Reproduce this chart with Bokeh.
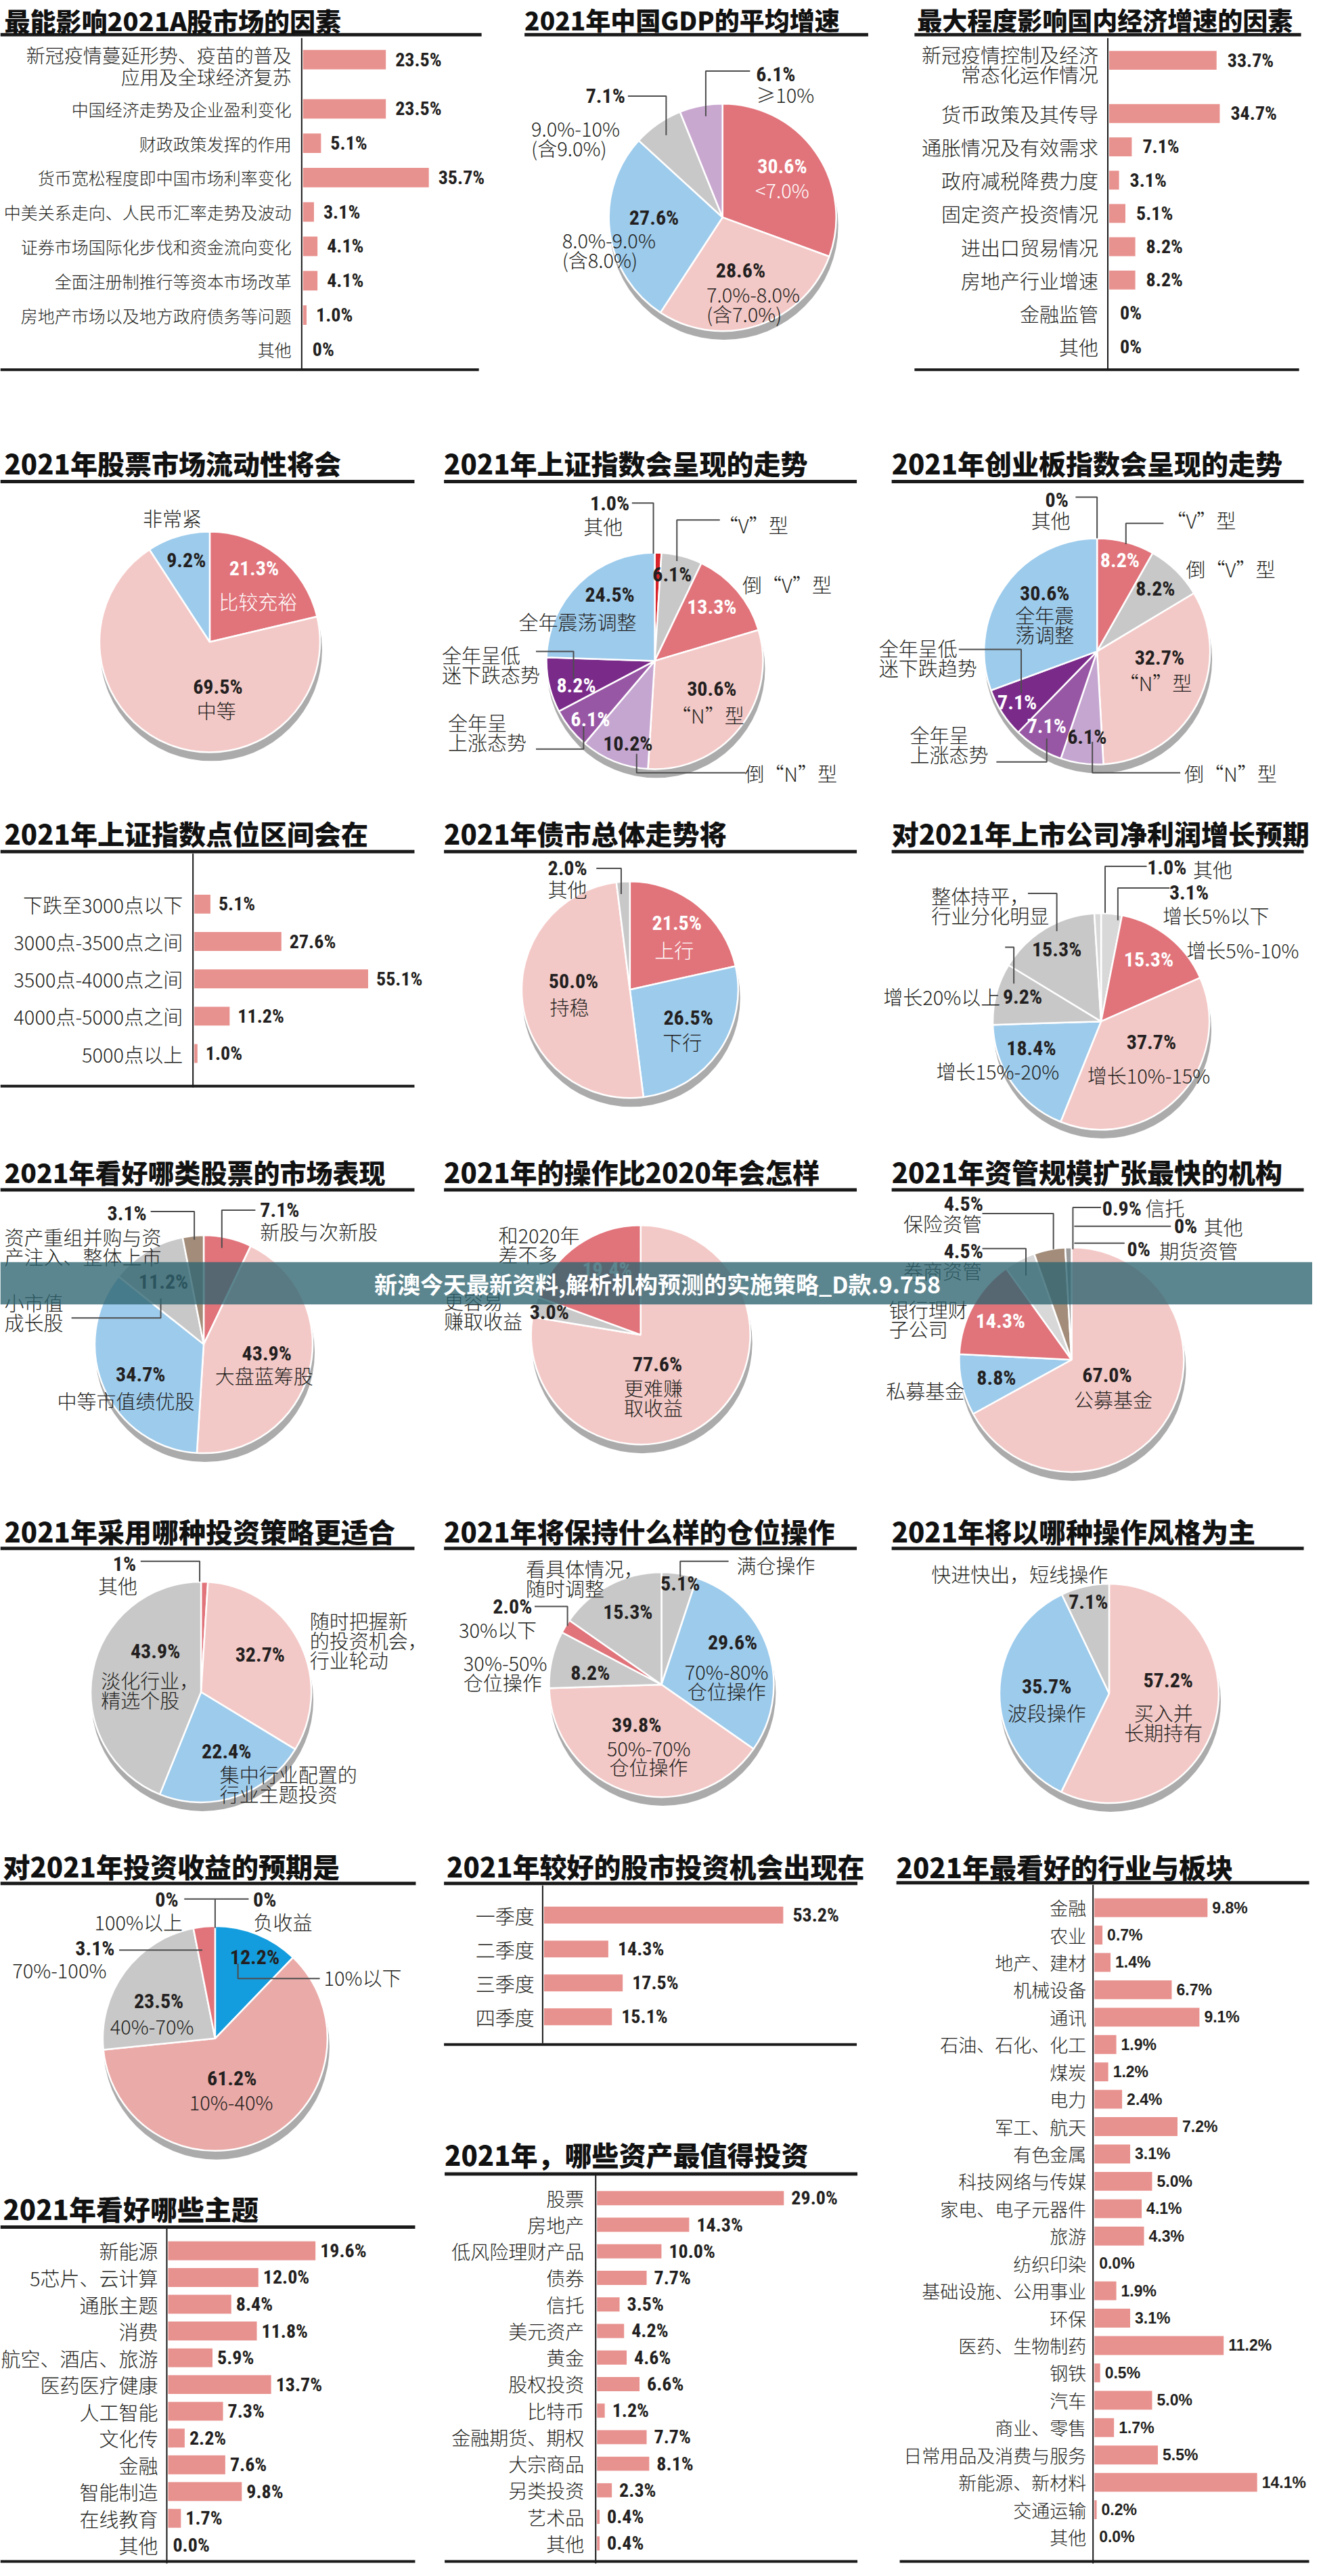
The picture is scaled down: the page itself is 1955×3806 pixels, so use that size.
import numpy as np
from collections import defaultdict
from bokeh.plotting import figure
from bokeh.models import Range1d, ColumnDataSource
from bokeh.core.properties import value
from bokeh.embed import file_html
from bokeh.resources import INLINE

# ======================= DATA =======================
FACTORS_CATS = ["新冠疫情蔓延形势、疫苗的普及\n应用及全球经济复苏", "中国经济走势及企业盈利变化", "财政政策发挥的作用",
                "货币宽松程度即中国市场利率变化", "中美关系走向、人民币汇率走势及波动", "证券市场国际化步伐和资金流向变化",
                "全面注册制推行等资本市场改革", "房地产市场以及地方政府债务等问题", "其他"]
FACTORS_VALS = [23.5, 23.5, 5.1, 35.7, 3.1, 4.1, 4.1, 1.0, 0]

GDP_CATS = ["<7.0%", "7.0%-8.0%\n(含7.0%)", "8.0%-9.0%\n(含8.0%)", "9.0%-10%\n(含9.0%)", "≥10%"]
GDP_VALS = [30.6, 28.6, 27.6, 7.1, 6.1]

ECON_CATS = ["新冠疫情控制及经济\n常态化运作情况", "货币政策及其传导", "通胀情况及有效需求", "政府减税降费力度",
             "固定资产投资情况", "进出口贸易情况", "房地产行业增速", "金融监管", "其他"]
ECON_VALS = [33.7, 34.7, 7.1, 3.1, 5.1, 8.2, 8.2, 0, 0]

LIQ_CATS = ["比较充裕", "中等", "非常紧"]
LIQ_VALS = [21.3, 69.5, 9.2]

SH_CATS = ["其他", "“V”型", "倒“V”型", "“N”型", "倒“N”型", "全年呈\n上涨态势", "全年呈低\n迷下跌态势", "全年震荡调整"]
SH_VALS = [1.0, 6.1, 13.3, 30.6, 10.2, 6.1, 8.2, 24.5]

CY_CATS = ["其他", "“V”型", "倒“V”型", "“N”型", "倒“N”型", "全年呈\n上涨态势", "全年呈低\n迷下跌趋势", "全年震\n荡调整"]
CY_VALS = [0, 8.2, 8.2, 32.7, 6.1, 7.1, 7.1, 30.6]

POINT_CATS = ["下跌至3000点以下", "3000点-3500点之间", "3500点-4000点之间", "4000点-5000点之间", "5000点以上"]
POINT_VALS = [5.1, 27.6, 55.1, 11.2, 1.0]

BOND_CATS = ["上行", "下行", "持稳", "其他"]
BOND_VALS = [21.5, 26.5, 50.0, 2.0]

PROFIT_CATS = ["增长5%以下", "增长5%-10%", "增长10%-15%", "增长15%-20%", "增长20%以上", "整体持平，\n行业分化明显", "其他"]
PROFIT_VALS = [3.1, 15.3, 37.7, 18.4, 9.2, 15.3, 1.0]

STOCK_CATS = ["新股与次新股", "大盘蓝筹股", "中等市值绩优股", "小市值\n成长股", "资产重组并购与资\n产注入、整体上市"]
STOCK_VALS = [7.1, 43.9, 34.7, 11.2, 3.1]

OPER_CATS = ["更难赚\n取收益", "更容易\n赚取收益", "和2020年\n差不多"]
OPER_VALS = [77.6, 3.0, 19.4]

AM_CATS = ["公募基金", "私募基金", "银行理财\n子公司", "券商资管", "保险资管", "信托", "其他", "期货资管"]
AM_VALS = [67.0, 8.8, 14.3, 4.5, 4.5, 0.9, 0, 0]

STRAT_CATS = ["其他", "随时把握新\n的投资机会，\n行业轮动", "集中行业配置的\n行业主题投资", "淡化行业，\n精选个股"]
STRAT_VALS = [1, 32.7, 22.4, 43.9]

POS_CATS = ["满仓操作", "70%-80%\n仓位操作", "50%-70%\n仓位操作", "30%-50%\n仓位操作", "30%以下", "看具体情况，\n随时调整"]
POS_VALS = [5.1, 29.6, 39.8, 8.2, 2.0, 15.3]

STYLE_CATS = ["买入并\n长期持有", "波段操作", "快进快出，短线操作"]
STYLE_VALS = [57.2, 35.7, 7.1]

RET_CATS = ["负收益", "10%以下", "10%-40%", "40%-70%", "70%-100%", "100%以上"]
RET_VALS = [0, 12.2, 61.2, 23.5, 3.1, 0]

QTR_CATS = ["一季度", "二季度", "三季度", "四季度"]
QTR_VALS = [53.2, 14.3, 17.5, 15.1]

IND_CATS = ["金融", "农业", "地产、建材", "机械设备", "通讯", "石油、石化、化工", "煤炭", "电力", "军工、航天",
            "有色金属", "科技网络与传媒", "家电、电子元器件", "旅游", "纺织印染", "基础设施、公用事业", "环保",
            "医药、生物制药", "钢铁", "汽车", "商业、零售", "日常用品及消费与服务", "新能源、新材料", "交通运输", "其他"]
IND_VALS = [9.8, 0.7, 1.4, 6.7, 9.1, 1.9, 1.2, 2.4, 7.2, 3.1, 5.0, 4.1, 4.3, 0.0, 1.9, 3.1, 11.2, 0.5, 5.0,
            1.7, 5.5, 14.1, 0.2, 0.0]

THEME_CATS = ["新能源", "5芯片、云计算", "通胀主题", "消费", "航空、酒店、旅游", "医药医疗健康", "人工智能",
              "文化传", "金融", "智能制造", "在线教育", "其他"]
THEME_VALS = [19.6, 12.0, 8.4, 11.8, 5.9, 13.7, 7.3, 2.2, 7.6, 9.8, 1.7, 0.0]

ASSET_CATS = ["股票", "房地产", "低风险理财产品", "债券", "信托", "美元资产", "黄金", "股权投资", "比特币",
              "金融期货、期权", "大宗商品", "另类投资", "艺术品", "其他"]
ASSET_VALS = [29.0, 14.3, 10.0, 7.7, 3.5, 4.2, 4.6, 6.6, 1.2, 7.7, 8.1, 2.3, 0.4, 0.4]

TITLES = ["最能影响2021A股市场的因素", "2021年中国GDP的平均增速", "最大程度影响国内经济增速的因素",
          "2021年股票市场流动性将会", "2021年上证指数会呈现的走势", "2021年创业板指数会呈现的走势",
          "2021年上证指数点位区间会在", "2021年债市总体走势将", "对2021年上市公司净利润增长预期",
          "2021年看好哪类股票的市场表现", "2021年的操作比2020年会怎样", "2021年资管规模扩张最快的机构",
          "2021年采用哪种投资策略更适合", "2021年将保持什么样的仓位操作", "2021年将以哪种操作风格为主",
          "对2021年投资收益的预期是", "2021年较好的股市投资机会出现在", "2021年最看好的行业与板块",
          "2021年看好哪些主题", "2021年，哪些资产最值得投资"]
BANNER = "新澳今天最新资料,解析机构预测的实施策略_D款.9.758"

# ======================= STYLE =======================
CJK = "Noto Sans CJK SC"
CJK_LIGHT = "Noto Sans CJK SC Light, Noto Sans CJK SC DemiLight, Noto Sans CJK SC"
CJK_HEAVY = "Noto Sans CJK SC Black, Noto Sans CJK SC Heavy, Noto Sans CJK SC"
NUM = "Liberation Sans Narrow, Roboto Condensed, Noto Sans Condensed, DejaVu Sans Condensed, Liberation Sans"
WIDE = "Liberation Sans, Arial"
DARK = "#231f20"
BAR = "#e8928f"
RED, PINK, BLUE, GRAY = "#e1737a", "#f3c9c7", "#9dcbec", "#c8c8c8"
LGRAY, DGRAY, LAV = "#d8d8d8", "#9c9c9c", "#c9a8d0"
DPUR, MPUR, LPUR, BROWN = "#7a2a89", "#9857a5", "#c5a6d0", "#a38d7a"
BBLUE, DPINK, BRED, SHADOW = "#149dde", "#eaaaa8", "#d8232a", "#ababab"

# page coordinates of the reference (0..1955 x 0..3806) mapped onto the 1939x3790 canvas
X0, X1, Y0, Y1 = 0, 1955, 0, 3806

p = figure(width=1939, height=3790, x_range=Range1d(X0, X1), y_range=Range1d(Y1, Y0),
           output_backend="svg", toolbar_location=None, x_axis_location=None, y_axis_location=None,
           min_border=0)
p.grid.visible = False
p.outline_line_color = None
p.background_fill_color = "white"
p.border_fill_color = "white"

texts = []
def T(x, y, s, font=CJK_LIGHT, size=29, style="normal", color=DARK, align="center", lh=29):
    for k, part in enumerate(s.split("\n")):
        texts.append((x, y + k * lh, part, font, size, style, color, align))

seg = dict(x0=[], y0=[], x1=[], y1=[], w=[])
def S(x0, y0, x1, y1, w):
    for k, v in zip(("x0", "y0", "x1", "y1", "w"), (x0, y0, x1, y1, w)):
        seg[k].append(v)

leader_xs, leader_ys = [], []

# ---------------- titles & rules ----------------
TITLE_POS = [(6, 29, 38), (781, 29, 37), (1366, 29, 37),
             (6, 686, 40), (661, 686, 40), (1328, 686, 40),
             (6, 1236, 40), (661, 1236, 40), (1328, 1236, 40),
             (6, 1738, 39), (661, 1738, 40), (1328, 1738, 40),
             (6, 2271, 40), (661, 2271, 40), (1328, 2271, 40),
             (4, 2768, 40), (665, 2768, 40), (1335, 2769, 40),
             (4, 3276, 40), (662, 3196, 40)]
for t, (x, y, s) in zip(TITLES, TITLE_POS):
    T(x, y, t, font=CJK_HEAVY, size=s, style="bold", align="left", color="#111111")

UNDERLINES = [(0, 717, 51), (781, 1293, 51), (1362, 1938, 51)]
for yy in (714, 1263, 1765, 2297):
    UNDERLINES += [(0, 617, yy), (661, 1276, yy), (1328, 1942, yy)]
UNDERLINES += [(0, 619, 2794), (661, 1277, 2794), (1335, 1950, 2793), (0, 618, 3304), (662, 1277, 3225)]
for a, b, yy in UNDERLINES:
    S(a, yy, b, yy, 5)

# ---------------- bar charts ----------------
BAR_LAYOUT = {
    "factors": dict(axis=451, ax_y=(56, 549), bottom=(0, 713, 548), y0=88, dy=51, extra=22, bar_h=29,
                    scale=5.25, lgap=17, lsize=25, first_size=28, lh=32, shift=9, vgap=14),
    "econ": dict(axis=1652, ax_y=(56, 548), bottom=(1362, 1935, 548), y0=89, dy=49.4, extra=29.6, bar_h=28,
                 scale=4.75, lgap=16, lsize=29, lh=29, shift=5, vgap=16),
    "points": dict(axis=289, ax_y=(1266, 1613), bottom=(0, 617, 1611), y0=1341, dy=55.4, bar_h=28,
                   scale=4.7, lgap=17, lsize=29, vgap=12),
    "quarters": dict(axis=810, ax_y=(2797, 3031), bottom=(661, 1276, 3033), y0=2841, dy=50.3, bar_h=25,
                     scale=6.7, lgap=14, lsize=29, vgap=14),
    "themes": dict(axis=250, ax_y=(3306, 3803), bottom=(0, 618, 3800), y0=3339, dy=39.7, bar_h=28,
                   scale=11.2, lgap=15, lsize=29, vgap=7),
    "assets": dict(axis=889, ax_y=(3223, 3803), bottom=(662, 1277, 3800), y0=3261, dy=39.4, bar_h=21,
                   scale=9.6, lgap=19, lsize=28, vgap=11),
    "industries": dict(axis=1630, ax_y=(2796, 3803), bottom=(1340, 1950, 3800), y0=2830, dy=40.6, bar_h=28,
                       scale=17.2, lgap=12, lsize=27, vgap=7, vfont=WIDE, vsize=23),
}

def draw_bars(name, cats, vals, L):
    ax, sc, y0, dy = L["axis"], L["scale"], L["y0"], L["dy"]
    xr, yr = name + "_x", name + "_y"
    p.extra_x_ranges[xr] = Range1d((X0 - ax) / sc, (X1 - ax) / sc)
    p.extra_y_ranges[yr] = Range1d((Y1 - y0) / dy, (Y0 - y0) / dy)
    slots, acc = [], 0.0
    for c in cats:
        slots.append(acc)
        acc += 1 + c.count("\n") * L.get("extra", 0) / dy
    src = ColumnDataSource(dict(slot=slots, val=list(vals), lab=[f"{v}%" for v in vals]))
    p.hbar(y="slot", left=0, right="val", height=L["bar_h"] / dy, source=src, fill_color=BAR,
           line_color=None, x_range_name=xr, y_range_name=yr)
    p.text(x="val", y="slot", text="lab", source=src, x_offset=L["vgap"], text_align="left",
           text_baseline="middle", text_font=value(L.get("vfont", NUM)),
           text_font_size=f'{L.get("vsize", 28)}px', text_font_style="bold", text_color=DARK,
           x_range_name=xr, y_range_name=yr)
    groups = defaultdict(lambda: ([], []))
    for i, c in enumerate(cats):
        parts = c.split("\n")
        n = len(parts)
        size = L.get("first_size", L["lsize"]) if i == 0 else L["lsize"]
        for k, part in enumerate(parts):
            off = ((k - (n - 1) / 2) * L.get("lh", 30) + (L.get("shift", 0) if n > 1 else 0)) / dy
            groups[size][0].append(slots[i] + off)
            groups[size][1].append(part)
    for size, (ys, ts) in groups.items():
        p.text(x=[0] * len(ys), y=ys, text=ts, x_offset=-L["lgap"], text_align="right",
               text_baseline="middle", text_font=value(CJK_LIGHT), text_font_size=f"{size}px",
               text_color=DARK, x_range_name=xr, y_range_name=yr)
    S(ax - 2, L["ax_y"][0], ax - 2, L["ax_y"][1], 2)
    b = L["bottom"]
    S(b[0], b[2], b[1], b[2], 4)

draw_bars("factors", FACTORS_CATS, FACTORS_VALS, BAR_LAYOUT["factors"])
draw_bars("econ", ECON_CATS, ECON_VALS, BAR_LAYOUT["econ"])
draw_bars("points", POINT_CATS, POINT_VALS, BAR_LAYOUT["points"])
draw_bars("quarters", QTR_CATS, QTR_VALS, BAR_LAYOUT["quarters"])
draw_bars("themes", THEME_CATS, THEME_VALS, BAR_LAYOUT["themes"])
draw_bars("assets", ASSET_CATS, ASSET_VALS, BAR_LAYOUT["assets"])
draw_bars("industries", IND_CATS, IND_VALS, BAR_LAYOUT["industries"])

# ---------------- pies ----------------
# val_pos / cat_pos: (x, y, colour 'w'|'d', align)
PIES = [
    dict(cats=GDP_CATS, vals=GDP_VALS, colors=[RED, PINK, BLUE, GRAY, LAV], center=(1076, 322), r=168,
         val_pos=[(1165, 246, 'w', 'center'), (1103, 401, 'd', 'center'), (974, 322, 'd', 'center'),
                  (931, 142, 'd', 'right'), (1126, 109, 'd', 'left')],
         cat_pos=[(1165, 281, 'w', 'center'), (1052, 435, 'd', 'left'), (837, 355, 'd', 'left'),
                  (791, 189, 'd', 'left'), (1126, 139, 'd', 'left')],
         leaders=[[(935, 142), (992, 142), (992, 200)], [(1117, 105), (1051, 105), (1051, 172)]]),
    dict(cats=LIQ_CATS, vals=LIQ_VALS, colors=[RED, PINK, BLUE], center=(312, 952), r=163,
         val_pos=[(378, 843, 'w', 'center'), (324, 1018, 'd', 'center'), (277, 830, 'd', 'center')],
         cat_pos=[(384, 891, 'w', 'center'), (322, 1053, 'd', 'center'), (256, 768, 'd', 'center')],
         leaders=[]),
    dict(cats=SH_CATS, vals=SH_VALS, colors=[BRED, GRAY, RED, PINK, LPUR, MPUR, DPUR, BLUE],
         center=(975, 980), r=160,
         val_pos=[(908, 746, 'd', 'center'), (1001, 852, 'd', 'center'), (1060, 900, 'w', 'center'),
                  (1060, 1021, 'd', 'center'), (935, 1103, 'd', 'center'), (879, 1066, 'w', 'center'),
                  (858, 1016, 'w', 'center'), (908, 882, 'd', 'center')],
         cat_pos=[(898, 780, 'd', 'center'), (1122, 778, 'd', 'center'), (1172, 866, 'd', 'center'),
                  (1054, 1060, 'd', 'center'), (1178, 1146, 'd', 'center'), (667, 1071, 'd', 'left'),
                  (658, 971, 'd', 'left'), (860, 921, 'd', 'center')],
         leaders=[[(941, 746), (973, 746), (973, 821)], [(1072, 771), (1008, 771), (1008, 832)],
                  [(948, 1118), (948, 1146), (1110, 1146)], [(798, 966), (854, 966), (854, 1007)],
                  [(798, 1111), (869, 1111), (869, 1075)]]),
    dict(cats=CY_CATS, vals=CY_VALS, colors=[BRED, RED, GRAY, PINK, LPUR, MPUR, DPUR, BLUE],
         center=(1634, 966), r=167,
         val_pos=[(1574, 741, 'd', 'center'), (1668, 830, 'w', 'center'), (1721, 873, 'd', 'center'),
                  (1727, 975, 'd', 'center'), (1619, 1093, 'd', 'center'), (1559, 1077, 'w', 'center'),
                  (1515, 1041, 'w', 'center'), (1556, 880, 'd', 'center')],
         cat_pos=[(1565, 771, 'd', 'center'), (1789, 771, 'd', 'center'), (1833, 843, 'd', 'center'),
                  (1721, 1012, 'd', 'center'), (1833, 1146, 'd', 'center'), (1355, 1089, 'd', 'left'),
                  (1309, 961, 'd', 'left'), (1556, 911, 'd', 'center')],
         leaders=[[(1602, 737), (1634, 737), (1634, 798)], [(1733, 776), (1677, 776), (1677, 807)],
                  [(1627, 1100), (1627, 1146), (1758, 1146)], [(1428, 963), (1521, 963), (1521, 1028)],
                  [(1484, 1130), (1559, 1130), (1559, 1095)]]),
    dict(cats=BOND_CATS, vals=BOND_VALS, colors=[RED, BLUE, PINK, GRAY], center=(938, 1468), r=160,
         val_pos=[(1008, 1369, 'w', 'center'), (1025, 1509, 'd', 'center'), (854, 1455, 'd', 'center'),
                  (845, 1287, 'd', 'center')],
         cat_pos=[(1004, 1408, 'w', 'center'), (1016, 1545, 'd', 'center'), (848, 1493, 'd', 'center'),
                  (845, 1318, 'd', 'center')],
         leaders=[[(888, 1288), (925, 1288), (925, 1326)]]),
    dict(cats=PROFIT_CATS, vals=PROFIT_VALS, colors=[LGRAY, RED, PINK, BLUE, GRAY, GRAY, LGRAY],
         center=(1640, 1515), r=160,
         val_pos=[(1771, 1324, 'd', 'center'), (1711, 1423, 'w', 'center'), (1715, 1545, 'd', 'center'),
                  (1536, 1555, 'd', 'center'), (1523, 1478, 'd', 'center'), (1574, 1408, 'd', 'center'),
                  (1738, 1286, 'd', 'center')],
         cat_pos=[(1811, 1357, 'd', 'center'), (1851, 1408, 'd', 'center'), (1711, 1594, 'd', 'center'),
                  (1486, 1588, 'd', 'center'), (1490, 1478, 'd', 'right'), (1387, 1328, 'd', 'left'),
                  (1777, 1289, 'd', 'left')],
         leaders=[[(1708, 1285), (1646, 1285), (1646, 1354)], [(1742, 1317), (1665, 1317), (1665, 1365)],
                  [(1531, 1325), (1574, 1325), (1574, 1381)], [(1497, 1405), (1510, 1405), (1510, 1459)]]),
    dict(cats=STOCK_CATS, vals=STOCK_VALS, colors=[RED, PINK, BLUE, GRAY, BROWN], center=(303, 1994), r=161,
         val_pos=[(387, 1795, 'd', 'left'), (397, 2007, 'd', 'center'), (209, 2039, 'd', 'center'),
                  (243, 1901, 'd', 'center'), (218, 1800, 'd', 'right')],
         cat_pos=[(387, 1826, 'd', 'left'), (393, 2040, 'd', 'center'), (187, 2077, 'd', 'center'),
                  (6, 1932, 'd', 'left'), (6, 1834, 'd', 'left')],
         leaders=[[(380, 1795), (330, 1795), (330, 1851)], [(224, 1797), (289, 1797), (289, 1839)],
                  [(106, 1955), (239, 1955), (239, 1926)]]),
    dict(cats=OPER_CATS, vals=OPER_VALS, colors=[PINK, GRAY, RED], center=(954, 1980), r=162,
         val_pos=[(979, 2024, 'd', 'center'), (818, 1946, 'd', 'center'), (904, 1883, 'w', 'center')],
         cat_pos=[(973, 2058, 'd', 'center'), (661, 1930, 'd', 'left'), (742, 1831, 'd', 'left')],
         leaders=[]),
    dict(cats=AM_CATS, vals=AM_VALS, colors=[PINK, BLUE, RED, LGRAY, BROWN, DGRAY, GRAY, GRAY],
         center=(1596, 2017), r=166,
         val_pos=[(1649, 2040, 'd', 'center'), (1484, 2044, 'd', 'center'), (1490, 1959, 'w', 'center'),
                  (1435, 1856, 'd', 'center'), (1435, 1786, 'd', 'center'), (1671, 1793, 'd', 'center'),
                  (1766, 1819, 'd', 'center'), (1696, 1853, 'd', 'center')],
         cat_pos=[(1658, 2075, 'd', 'center'), (1378, 2062, 'd', 'center'), (1324, 1942, 'd', 'left'),
                  (1404, 1884, 'd', 'center'), (1404, 1814, 'd', 'center'), (1706, 1791, 'd', 'left'),
                  (1793, 1819, 'd', 'left'), (1727, 1854, 'd', 'left')],
         leaders=[[(1463, 1800), (1569, 1800), (1569, 1853)], [(1463, 1852), (1528, 1852), (1528, 1892)],
                  [(1640, 1791), (1598, 1791), (1598, 1853)], [(1744, 1819), (1600, 1819)],
                  [(1675, 1844), (1600, 1844)]]),
    dict(cats=STRAT_CATS, vals=STRAT_VALS, colors=[RED, PINK, BLUE, GRAY], center=(299, 2510), r=163,
         val_pos=[(185, 2320, 'd', 'center'), (387, 2454, 'd', 'center'), (337, 2598, 'd', 'center'),
                  (231, 2449, 'd', 'center')],
         cat_pos=[(175, 2351, 'd', 'center'), (461, 2404, 'd', 'left'), (327, 2632, 'd', 'left'),
                  (150, 2492, 'd', 'left')],
         leaders=[[(209, 2316), (297, 2316), (297, 2346)]]),
    dict(cats=POS_CATS, vals=POS_VALS, colors=[GRAY, BLUE, PINK, GRAY, RED, GRAY], center=(985, 2499), r=166,
         val_pos=[(1013, 2349, 'd', 'center'), (1091, 2436, 'd', 'center'), (948, 2559, 'd', 'center'),
                  (879, 2481, 'd', 'center'), (763, 2383, 'd', 'center'), (935, 2391, 'd', 'center')],
         cat_pos=[(1097, 2321, 'd', 'left'), (1082, 2479, 'd', 'center'), (966, 2592, 'd', 'center'),
                  (690, 2466, 'd', 'left'), (683, 2417, 'd', 'left'), (783, 2326, 'd', 'left')],
         leaders=[[(1085, 2316), (1013, 2316), (1013, 2339)], [(796, 2383), (845, 2383), (845, 2412)]]),
    dict(cats=STYLE_CATS, vals=STYLE_VALS, colors=[PINK, BLUE, GRAY], center=(1652, 2512), r=162,
         val_pos=[(1740, 2492, 'd', 'center'), (1559, 2502, 'd', 'center'), (1621, 2376, 'd', 'center')],
         cat_pos=[(1733, 2540, 'd', 'center'), (1559, 2540, 'd', 'center'), (1387, 2334, 'd', 'left')],
         leaders=[]),
    dict(cats=RET_CATS, vals=RET_VALS, colors=[BBLUE, BBLUE, DPINK, GRAY, RED, GRAY], center=(320, 3024), r=166,
         val_pos=[(394, 2818, 'd', 'center'), (379, 2903, 'd', 'center'), (345, 3083, 'd', 'center'),
                  (236, 2968, 'd', 'center'), (141, 2890, 'd', 'center'), (248, 2818, 'd', 'center')],
         cat_pos=[(421, 2850, 'd', 'center'), (482, 2933, 'd', 'left'), (344, 3118, 'd', 'center'),
                  (226, 3005, 'd', 'center'), (88, 2922, 'd', 'center'), (206, 2850, 'd', 'center')],
         leaders=[[(274, 2817), (370, 2817)], [(320, 2817), (320, 2860)], [(177, 2893), (301, 2893)],
                  [(354, 2913), (354, 2935), (476, 2935)]]),
]

for P in PIES:
    vals = np.array(P["vals"], dtype=float)
    cx, cy = P["center"]
    r = P["r"]
    cum = np.concatenate([[0.0], np.cumsum(vals)]) / vals.sum()
    start = np.pi / 2 - 2 * np.pi * cum[:-1]
    end = np.pi / 2 - 2 * np.pi * cum[1:]
    keep = vals > 0
    p.circle(x=[cx + 2], y=[cy + 12], radius=r + 1, radius_units="screen", fill_color=SHADOW, line_color=None)
    src = ColumnDataSource(dict(s=start[keep], e=end[keep], c=[c for c, k in zip(P["colors"], keep) if k]))
    p.wedge(x=cx, y=cy, radius=r, radius_units="screen", start_angle="s", end_angle="e", direction="clock",
            fill_color="c", line_color="white", line_width=2.5, source=src)
    for v, (x, y, col, al) in zip(P["vals"], P["val_pos"]):
        T(x, y, f"{v}%", font=NUM, size=30, style="bold", color="white" if col == 'w' else DARK, align=al)
    for c, (x, y, col, al) in zip(P["cats"], P["cat_pos"]):
        T(x, y, c, size=29, color="white" if col == 'w' else DARK, align=al, lh=29)
    for ln in P["leaders"]:
        leader_xs.append([q[0] for q in ln])
        leader_ys.append([q[1] for q in ln])

# ---------------- rules, leaders, texts ----------------
p.segment(x0="x0", y0="y0", x1="x1", y1="y1", line_width="w", line_color="#1a1a1a",
          source=ColumnDataSource(seg))
p.multi_line(xs=leader_xs, ys=leader_ys, line_color="#4d4d4d", line_width=2)

groups = defaultdict(lambda: ([], [], []))
for x, y, s, font, size, style, color, align in texts:
    g = groups[(font, size, style, color, align)]
    g[0].append(x); g[1].append(y); g[2].append(s)
for (font, size, style, color, align), (xs, ys, ts) in groups.items():
    p.text(x=xs, y=ys, text=ts, text_font=value(font), text_font_size=f"{size}px", text_font_style=style,
           text_color=color, text_align=align, text_baseline="middle")

# ---------------- overlay banner ----------------
p.quad(left=[X0], right=[X1], top=[1872], bottom=[1935], fill_color="#2e6470", fill_alpha=0.78, line_color=None)
p.text(x=[979], y=[1904], text=[BANNER], text_font=value(CJK), text_font_size="34px", text_font_style="bold",
       text_color="white", text_align="center", text_baseline="middle")

open("out.html", "w").write(file_html(p, INLINE))
